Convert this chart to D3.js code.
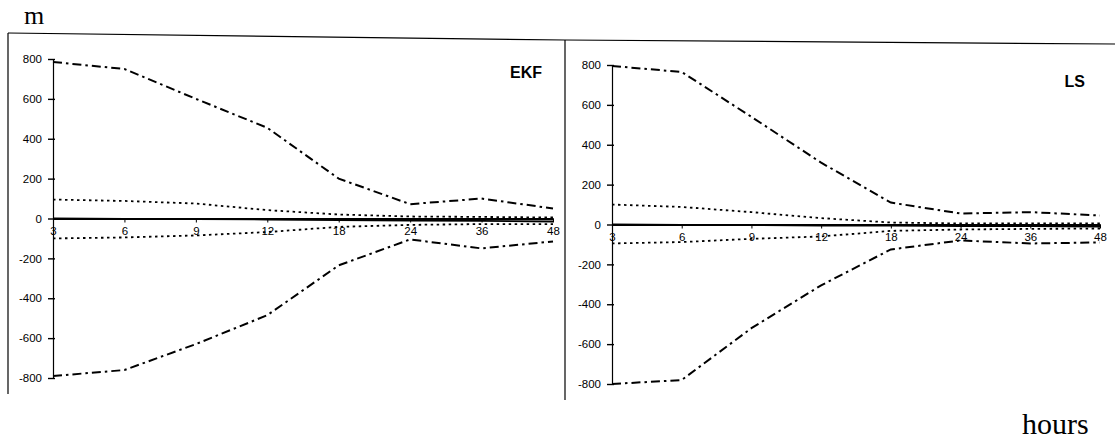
<!DOCTYPE html>
<html>
<head>
<meta charset="utf-8">
<script src="https://cdn.jsdelivr.net/npm/d3@7"></script>
<style>
  html, body { margin: 0; padding: 0; background: #fff; }
  svg { display: block; }
</style>
</head>
<body>
<svg id="chart" width="1115" height="441"></svg>
<script>
// Forecast horizons (hours) shared by both panels
const hours = ["3", "6", "9", "12", "18", "24", "36", "48"];
const yTicks = [-800, -600, -400, -200, 0, 200, 400, 600, 800];

// EKF panel, metres
const ekfUpper    = [785, 750, 600, 455, 200, 72, 100, 50];
const ekfLower    = [-790, -760, -630, -485, -235, -105, -150, -115];
const ekfUpperDot = [95, 88, 75, 42, 20, 10, 8, 5];
const ekfLowerDot = [-100, -95, -85, -68, -42, -32, -28, -28];
const ekfBias     = [0, -2, -3, -5, -8, -10, -12, -15];

// LS panel, metres
const lsUpper    = [795, 765, 540, 310, 110, 55, 62, 45];
const lsLower    = [-800, -780, -520, -305, -125, -80, -95, -90];
const lsUpperDot = [100, 88, 62, 32, 10, 5, 5, 5];
const lsLowerDot = [-95, -88, -72, -60, -32, -25, -22, -20];
const lsBias     = [0, -2, -3, -5, -6, -8, -8, -10];

const svg = d3.select("#chart");
const ink = "#000";

// outer frame: slightly skewed top edge, left edge and divider
svg.append("path")
  .attr("d", d3.line()([[8, 33], [565, 40], [1115, 44]]))
  .attr("fill", "none").attr("stroke", ink).attr("stroke-width", 1.2);
svg.append("line").attr("x1", 8).attr("x2", 8).attr("y1", 33).attr("y2", 394)
  .attr("stroke", ink).attr("stroke-width", 1.2);
svg.append("line").attr("x1", 565).attr("x2", 565).attr("y1", 40).attr("y2", 400)
  .attr("stroke", ink).attr("stroke-width", 1.2);

const panels = [
  { name: "EKF", x0: 53, x1: 553, yHi: 59, yLo: 378, labelX: 542, labelY: 78,
    upper: ekfUpper, lower: ekfLower, upperDot: ekfUpperDot, lowerDot: ekfLowerDot, bias: ekfBias },
  { name: "LS", x0: 612, x1: 1100, yHi: 65, yLo: 384, labelX: 1085, labelY: 87,
    upper: lsUpper, lower: lsLower, upperDot: lsUpperDot, lowerDot: lsLowerDot, bias: lsBias }
];

const sans = "Arial, 'Liberation Sans', sans-serif";

panels.forEach(p => {
  const g = svg.append("g");
  const x = d3.scalePoint().domain(hours).range([p.x0, p.x1]);
  const y = d3.scaleLinear().domain([-800, 800]).range([p.yLo, p.yHi]);

  // y axis, ticks crossing the axis line
  const yAxis = d3.axisLeft(y).tickValues(yTicks).tickSize(5).tickSizeOuter(0).tickPadding(6)
    .tickFormat(d => String(d));
  const ya = g.append("g").attr("transform", `translate(${p.x0},0)`).call(yAxis);
  ya.select(".domain").attr("stroke", ink).attr("stroke-width", 1.2);
  ya.selectAll(".tick line").attr("stroke", ink).attr("stroke-width", 1.4).attr("x1", 2).attr("x2", -5);
  ya.selectAll(".tick text").attr("font-family", sans).attr("font-size", 11.5).attr("fill", ink);

  // category axis along the zero line
  const xAxis = d3.axisBottom(x).tickSize(4).tickSizeOuter(0).tickPadding(4);
  const xa = g.append("g").attr("transform", `translate(0,${y(0)})`).call(xAxis);
  xa.select(".domain").attr("stroke", ink).attr("stroke-width", 2);
  xa.selectAll(".tick line").attr("stroke", ink).attr("stroke-width", 1);
  xa.selectAll(".tick text").attr("font-family", sans).attr("font-size", 11.5).attr("fill", ink);

  const line = d3.line().x((d, i) => x(hours[i])).y(d => y(d));
  const series = [
    { v: p.upper, dash: "9,4,2.5,4", w: 2 },
    { v: p.lower, dash: "9,4,2.5,4", w: 2 },
    { v: p.upperDot, dash: "2.5,3.5", w: 1.8 },
    { v: p.lowerDot, dash: "2.5,3.5", w: 1.8 },
    { v: p.bias, dash: null, w: 1.8 }
  ];
  series.forEach(s => {
    g.append("path").datum(s.v).attr("d", line)
      .attr("fill", "none").attr("stroke", ink).attr("stroke-width", s.w)
      .attr("stroke-dasharray", s.dash);
  });

  g.append("text").attr("x", p.labelX).attr("y", p.labelY)
    .attr("text-anchor", "end")
    .attr("font-family", sans).attr("font-weight", "bold").attr("font-size", 16).attr("fill", ink)
    .text(p.name);
});

// unit labels
svg.append("text").attr("x", 24).attr("y", 24)
  .attr("font-family", "'Liberation Serif', 'Times New Roman', serif")
  .attr("font-size", 26).attr("fill", ink).text("m");
svg.append("text").attr("x", 1022).attr("y", 434)
  .attr("font-family", "'Liberation Serif', 'Times New Roman', serif")
  .attr("font-size", 30).attr("fill", ink).text("hours");
</script>
</body>
</html>
